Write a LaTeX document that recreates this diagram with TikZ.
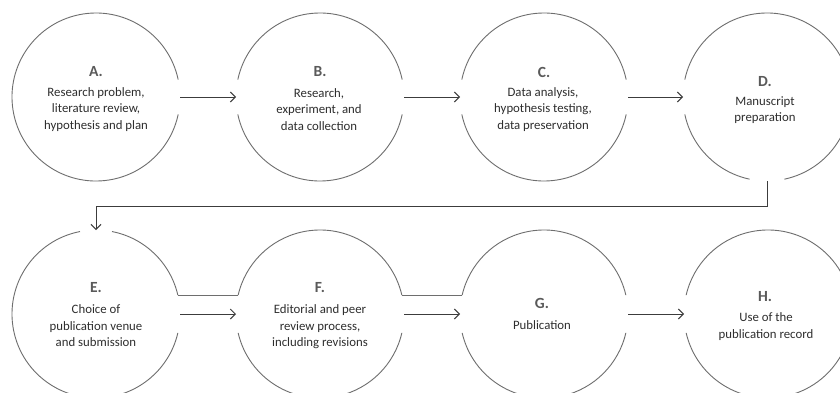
\documentclass[tikz,border=0pt]{standalone}
\usepackage{fontspec}
\setmainfont{Carlito}
\usetikzlibrary{arrows.meta}
\definecolor{circ}{HTML}{6E6E6E}
\definecolor{arrc}{HTML}{3C3C3C}
\definecolor{titc}{HTML}{5A5A5A}
\definecolor{bodyc}{HTML}{2E2E2E}
\begin{document}
\begin{tikzpicture}[x=1pt,y=1pt,
 stage/.style={circle,minimum size=168pt,inner sep=0pt,outer sep=0pt},
 ring/.style={draw=circ,line width=0.9pt},
 flow/.style={draw=arrc,line width=1pt,-{Straight Barb[length=5pt,width=10pt]}},
 link/.style={draw=circ,line width=0.9pt},
 ttl/.style={font=\fontsize{15.5}{18}\selectfont\bfseries,text=titc},
 body/.style={font=\fontsize{12.8}{16.5}\selectfont,text=bodyc,align=center}]
\path[use as bounding box] (0,0) rectangle (840,392);
\fill[white] (0,0) rectangle (840,392);
\clip (0,0) rectangle (840,392);

% stage nodes
\node[stage] (A) at (96,295) {};
\node[stage] (B) at (320,295) {};
\node[stage] (C) at (544,295) {};
\node[stage] (D) at (767,295) {};
\node[stage] (E) at (96,78) {};
\node[stage] (F) at (320,78) {};
\node[stage] (G) at (544,78) {};
\node[stage] (H) at (768,78) {};

% rings with gaps
\draw[ring] (A.12) arc[start angle=12,end angle=348,radius=84];
\draw[ring] (B.12) arc[start angle=12,end angle=168,radius=84];
\draw[ring] (B.192) arc[start angle=192,end angle=348,radius=84];
\draw[ring] (C.12) arc[start angle=12,end angle=168,radius=84];
\draw[ring] (C.192) arc[start angle=192,end angle=348,radius=84];
\draw[ring] (D.192) arc[start angle=192,end angle=258,radius=84];
\draw[ring] (D.282) arc[start angle=282,end angle=528,radius=84];
\draw[ring] (E.13) arc[start angle=13,end angle=79,radius=84];
\draw[ring] (E.101) arc[start angle=101,end angle=347,radius=84];
\draw[ring] (F.13) arc[start angle=13,end angle=167,radius=84];
\draw[ring] (F.193) arc[start angle=193,end angle=347,radius=84];
\draw[ring] (G.13) arc[start angle=13,end angle=167,radius=84];
\draw[ring] (G.193) arc[start angle=193,end angle=347,radius=84];
\draw[ring] (H.193) arc[start angle=193,end angle=527,radius=84];

% texts
\node[ttl] (At) at (96,320) {A.};
\node[body] (Ab) at (96,282.5) {Research problem,\\literature review,\\hypothesis and plan};
\node[ttl] (Bt) at (320,320) {B.};
\node[body] (Bb) at (319,282.5) {Research,\\experiment, and\\data collection};
\node[ttl] (Ct) at (544,320) {C.};
\node[body] (Cb) at (543,282.5) {Data analysis,\\hypothesis testing,\\data preservation};
\node[ttl] (Dt) at (765,310) {D.};
\node[body] (Db) at (765,282) {Manuscript\\preparation};
\node[ttl] (Et) at (96,104) {E.};
\node[body] (Eb) at (96,66) {Choice of\\publication venue\\and submission};
\node[ttl] (Ft) at (320,104) {F.};
\node[body] (Fb) at (320,65) {Editorial and peer\\review process,\\including revisions};
\node[ttl] (Gt) at (542,89) {G.};
\node[body] (Gb) at (542,67) {Publication};
\node[ttl] (Ht) at (765,95) {H.};
\node[body] (Hb) at (766,65.5) {Use of the\\publication record};

% connectors
\draw[flow] (A.east) -- (B.west);
\draw[flow] (B.east) -- (C.west);
\draw[flow] (C.east) -- (D.west);
\draw[flow] (D.south) -- ++(0,-25) -| (E.north);
\draw[flow] (E.east) -- (F.west);
\draw[link] (E.13) -- (F.167);
\draw[flow] (F.east) -- (G.west);
\draw[link] (F.13) -- (G.167);
\draw[flow] (G.east) -- (H.west);
\end{tikzpicture}
\end{document}
